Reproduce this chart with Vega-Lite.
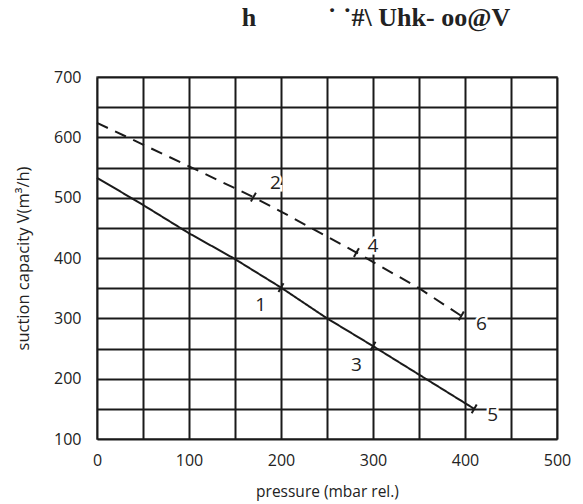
{
  "$schema": "https://vega.github.io/schema/vega-lite/v6.json",
  "width": 460,
  "height": 362,
  "autosize": {"type": "none"},
  "padding": {"left": 97, "top": 77, "right": 26, "bottom": 65},
  "background": "white",
  "config": {
    "view": {"stroke": "#555", "strokeWidth": 1.5},
    "font": "Open Sans"
  },
  "title": {
    "text": "h\u00a0\u00a0\u00a0\u00a0\u00a0\u00a0\u00a0\u00a0\u00a0\u00a0\u00a0\u02d9 \u02d9#\\ Uhk- oo@V",
    "font": "Liberation Serif",
    "fontSize": 26,
    "fontWeight": "bold",
    "color": "#222",
    "anchor": "middle",
    "dx": 49,
    "baseline": "alphabetic",
    "offset": 17
  },
  "datasets": {
    "curves": [
      {"series": "A", "pressure": 0, "capacity": 533},
      {"series": "A", "pressure": 50, "capacity": 488},
      {"series": "A", "pressure": 100, "capacity": 441},
      {"series": "A", "pressure": 148, "capacity": 400},
      {"series": "A", "pressure": 200, "capacity": 351},
      {"series": "A", "pressure": 250, "capacity": 300},
      {"series": "A", "pressure": 300, "capacity": 254},
      {"series": "A", "pressure": 410, "capacity": 150},
      {"series": "B", "pressure": 0, "capacity": 624},
      {"series": "B", "pressure": 100, "capacity": 552},
      {"series": "B", "pressure": 170, "capacity": 501},
      {"series": "B", "pressure": 200, "capacity": 477},
      {"series": "B", "pressure": 282, "capacity": 409},
      {"series": "B", "pressure": 350, "capacity": 350},
      {"series": "B", "pressure": 396, "capacity": 304}
    ],
    "points": [
      {"pressure": 200, "capacity": 351},
      {"pressure": 300, "capacity": 254},
      {"pressure": 410, "capacity": 150},
      {"pressure": 170, "capacity": 501},
      {"pressure": 282, "capacity": 409},
      {"pressure": 396, "capacity": 304}
    ],
    "labels": [
      {"label": "1", "pressure": 178, "capacity": 322},
      {"label": "2", "pressure": 194, "capacity": 524},
      {"label": "3", "pressure": 282, "capacity": 223},
      {"label": "4", "pressure": 300, "capacity": 420},
      {"label": "5", "pressure": 430, "capacity": 140},
      {"label": "6", "pressure": 418, "capacity": 290}
    ]
  },
  "encoding": {
    "x": {
      "field": "pressure",
      "type": "quantitative",
      "scale": {"domain": [0, 500], "nice": false, "zero": false},
      "axis": {
        "values": [0, 50, 100, 150, 200, 250, 300, 350, 400, 450, 500],
        "labelExpr": "datum.value % 100 === 0 ? datum.label : ''",
        "grid": true,
        "gridColor": "#1a1a1a",
        "gridWidth": 2,
        "ticks": false,
        "domain": false,
        "labelFlush": false,
        "labelOverlap": false,
        "labelBound": false,
        "labelPadding": 13,
        "labelFontSize": 16,
        "labelColor": "#222",
        "title": "pressure (mbar rel.)",
        "titleFontSize": 15.5,
        "titleFontWeight": "normal",
        "titleColor": "#222",
        "titlePadding": 16
      }
    },
    "y": {
      "field": "capacity",
      "type": "quantitative",
      "scale": {"domain": [100, 700], "nice": false, "zero": false},
      "axis": {
        "values": [100, 150, 200, 250, 300, 350, 400, 450, 500, 550, 600, 650, 700],
        "labelExpr": "datum.value % 100 === 0 ? datum.label : ''",
        "grid": true,
        "gridColor": "#1a1a1a",
        "gridWidth": 2,
        "ticks": false,
        "domain": false,
        "labelFlush": false,
        "labelOverlap": false,
        "labelBound": false,
        "labelPadding": 16,
        "labelFontSize": 16,
        "labelColor": "#222",
        "title": "suction capacity V(m³/h)",
        "titleFontSize": 16.5,
        "titleFontWeight": "normal",
        "titleColor": "#222",
        "titlePadding": 22
      }
    }
  },
  "layer": [
    {
      "data": {"name": "curves"},
      "mark": {"type": "line", "strokeWidth": 2, "color": "#1a1a1a"},
      "encoding": {
        "strokeDash": {
          "field": "series",
          "type": "nominal",
          "scale": {"domain": ["A", "B"], "range": [[1, 0], [12, 8]]},
          "legend": null
        }
      }
    },
    {
      "data": {"name": "points"},
      "mark": {"type": "point", "shape": "stroke", "size": 100, "strokeWidth": 2, "color": "#1a1a1a", "angle": -60, "opacity": 1}
    },
    {
      "data": {"name": "labels"},
      "mark": {"type": "text", "fontSize": 19, "stroke": "white", "strokeWidth": 5, "color": "white", "align": "center", "baseline": "middle"},
      "encoding": {"text": {"field": "label"}}
    },
    {
      "data": {"name": "labels"},
      "mark": {"type": "text", "fontSize": 19, "color": "#222", "align": "center", "baseline": "middle"},
      "encoding": {"text": {"field": "label"}}
    }
  ]
}
